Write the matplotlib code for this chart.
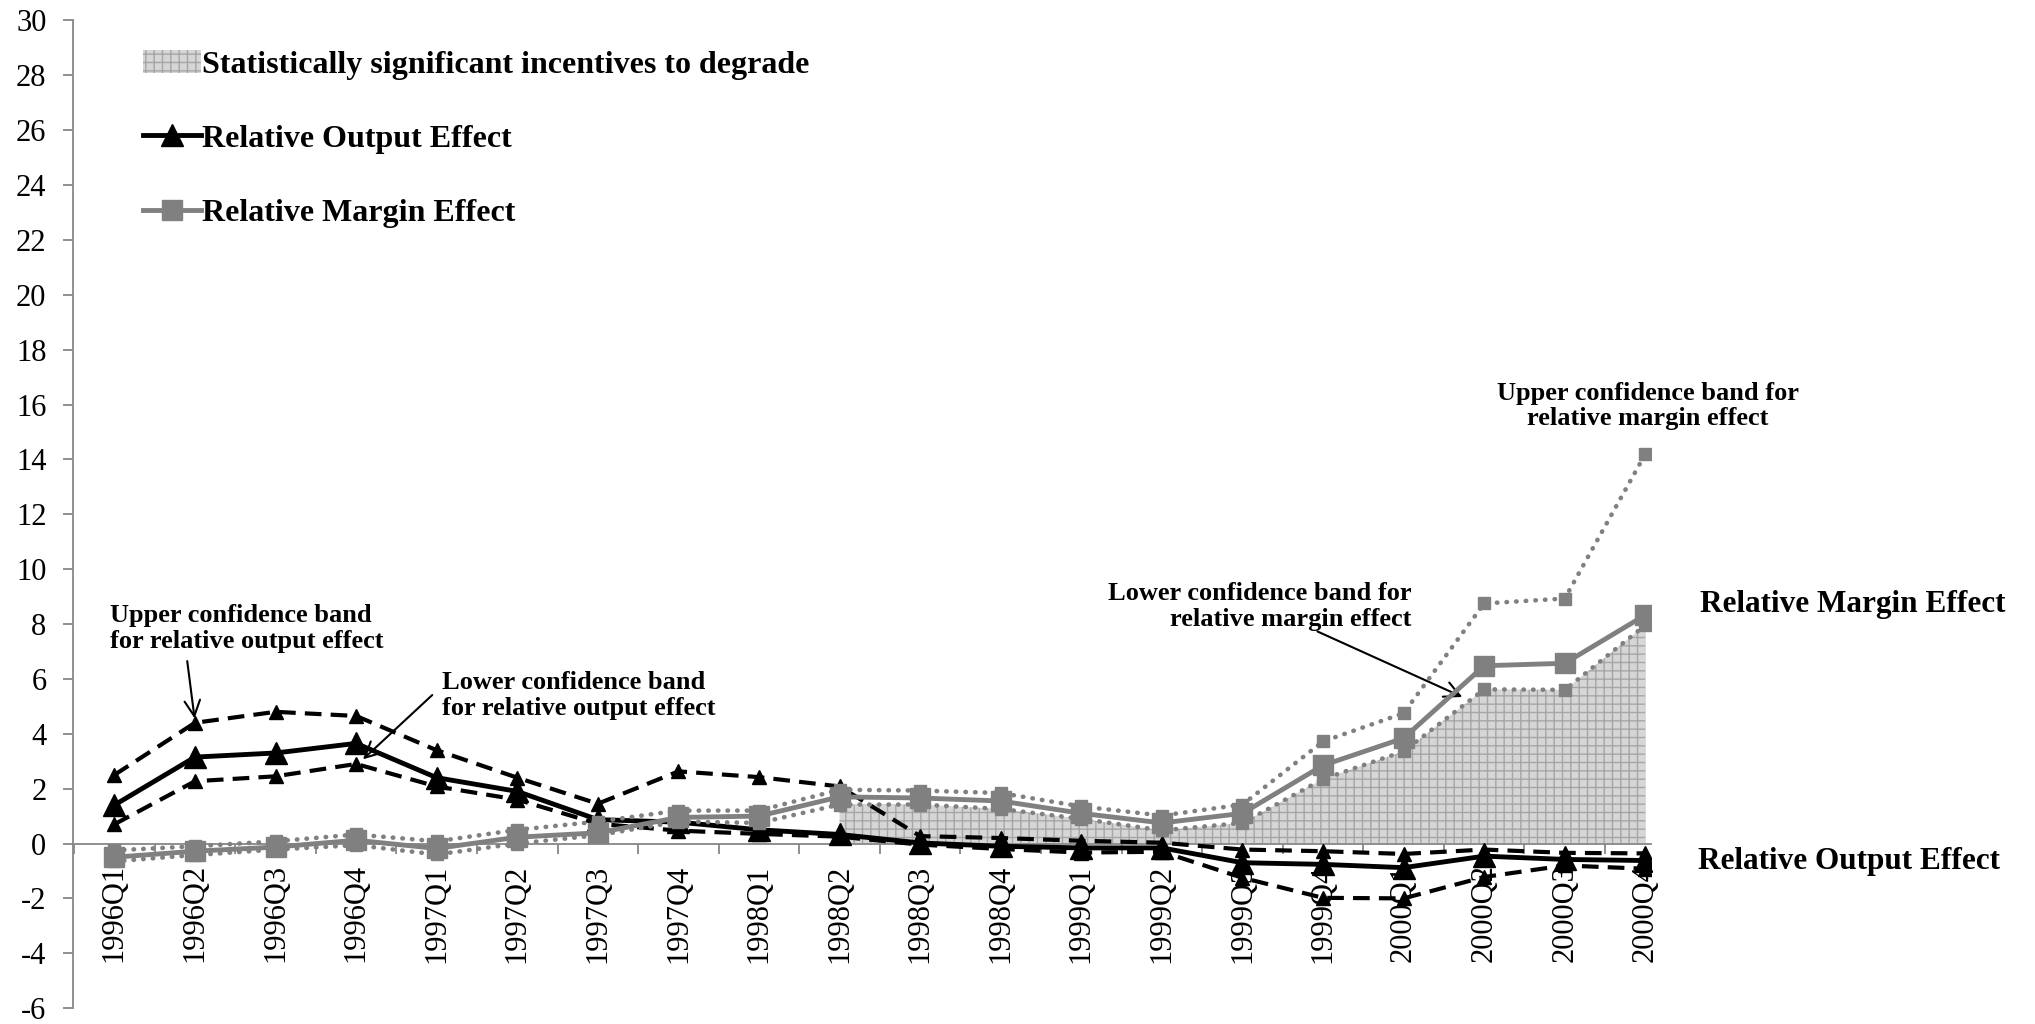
import matplotlib
matplotlib.use("Agg")
import matplotlib.pyplot as plt
from matplotlib.patches import Patch
from matplotlib.lines import Line2D
import numpy as np

# ─── Data ────────────────────────────────────────────────────────────────────
quarters = ["1996Q1", "1996Q2", "1996Q3", "1996Q4",
            "1997Q1", "1997Q2", "1997Q3", "1997Q4",
            "1998Q1", "1998Q2", "1998Q3", "1998Q4",
            "1999Q1", "1999Q2", "1999Q3", "1999Q4",
            "2000Q1", "2000Q2", "2000Q3", "2000Q4"]

output_effect = [1.4, 3.15, 3.3, 3.65, 2.4, 1.9, 0.87, 0.78, 0.5, 0.33,
                 0.02, -0.1, -0.16, -0.16, -0.7, -0.76, -0.88, -0.46, -0.58, -0.62]
output_upper = [2.5, 4.4, 4.8, 4.65, 3.4, 2.4, 1.45, 2.63, 2.42, 2.08,
                0.27, 0.2, 0.1, 0.03, -0.22, -0.28, -0.38, -0.22, -0.34, -0.36]
output_lower = [0.7, 2.27, 2.45, 2.9, 2.08, 1.6, 0.72, 0.47, 0.35, 0.25,
                -0.04, -0.2, -0.33, -0.3, -1.25, -1.98, -2.0, -1.22, -0.8, -0.92]

margin_effect = [-0.5, -0.28, -0.13, 0.12, -0.18, 0.23, 0.39, 0.95, 1.0, 1.7,
                 1.66, 1.55, 1.1, 0.75, 1.1, 2.85, 3.84, 6.48, 6.57, 8.33]
margin_upper = [-0.25, -0.1, 0.08, 0.33, 0.08, 0.5, 0.8, 1.2, 1.2, 1.96,
                1.93, 1.84, 1.35, 1.02, 1.42, 3.72, 4.75, 8.75, 8.93, 14.2]
margin_lower = [-0.65, -0.42, -0.22, -0.06, -0.4, 0.0, 0.3, 0.8, 0.75, 1.42,
                1.42, 1.26, 0.9, 0.48, 0.75, 2.35, 3.36, 5.62, 5.6, 7.96]

# quarters where the incentive to degrade is significant (shaded)
significant_from = "1998Q2"

y_ticks = list(range(-6, 31, 2))

# ─── Style ───────────────────────────────────────────────────────────────────
plt.rcParams.update({
    "font.family": "Liberation Serif",
    "axes.unicode_minus": False,
    "hatch.linewidth": 1.0,
    "hatch.color": "#a6a6a6",
})

GRAY = "#808080"
AXIS_GRAY = "#878787"
DASH = (0, (4, 2.2))
DOT = (0, (0.1, 2.0))

fig = plt.figure(figsize=(20.35, 10.24), dpi=100)
ax = fig.add_axes([0.0358, 0.0155, 0.7755, 0.9645])

x = np.arange(len(quarters))
sig_mask = [q >= significant_from for q in quarters]

# shaded area
ax.fill_between(x, 0, margin_lower, where=sig_mask, facecolor="#d6d6d6",
                edgecolor="#a6a6a6", hatch="++", linewidth=0, zorder=1)

# relative output effect (black)
ax.plot(x, output_upper, color="black", lw=3, ls=DASH, marker="^", ms=10, zorder=3)
ax.plot(x, output_lower, color="black", lw=3, ls=DASH, marker="^", ms=10, zorder=3)
ax.plot(x, output_effect, color="black", lw=3.5, marker="^", ms=16, zorder=4)

# relative margin effect (gray)
ax.plot(x, margin_upper, color=GRAY, lw=3.3, ls=DOT, dash_capstyle="round",
        marker="s", ms=8, zorder=5)
ax.plot(x, margin_lower, color=GRAY, lw=3.3, ls=DOT, dash_capstyle="round",
        marker="s", ms=8, zorder=5)
ax.plot(x, margin_effect, color=GRAY, lw=3.5, marker="s", ms=15, zorder=6)

# ─── Axes ────────────────────────────────────────────────────────────────────
ax.set_xlim(-0.515, 19.07)
ax.set_ylim(-6, 30)
ax.set_yticks(y_ticks)
ax.set_yticklabels([str(v) for v in y_ticks])
ax.set_xticks(x)
ax.set_xticklabels(quarters)
ax.set_xticks(np.arange(-0.5, len(quarters) - 1, 1), minor=True)

for s in ("top", "right"):
    ax.spines[s].set_visible(False)
ax.spines["bottom"].set_position(("data", 0))
for s in ("left", "bottom"):
    ax.spines[s].set_color(AXIS_GRAY)
    ax.spines[s].set_linewidth(1.3)
    ax.spines[s].set_zorder(2)

ax.tick_params(axis="y", length=7, width=1.3, color=AXIS_GRAY, pad=12, labelsize=22)
ax.tick_params(axis="x", which="major", length=0, pad=15, labelsize=22,
               labelrotation=90)
ax.tick_params(axis="x", which="minor", length=7, width=1.3, color=AXIS_GRAY,
               direction="out")

# ─── Legend ──────────────────────────────────────────────────────────────────
handles = [
    Patch(facecolor="#d6d6d6", edgecolor="#a6a6a6", hatch="++", linewidth=0),
    Line2D([], [], color="black", lw=3.5, marker="^", ms=16),
    Line2D([], [], color=GRAY, lw=3.5, marker="s", ms=15),
]
labels = ["Statistically significant incentives to degrade",
          "Relative Output Effect", "Relative Margin Effect"]
fig.legend(handles, labels, loc="upper left", bbox_to_anchor=(0.0703, 0.951),
           frameon=False, borderpad=0, borderaxespad=0, handlelength=1.8,
           handletextpad=0.05, labelspacing=1.4,
           prop={"family": "Liberation Serif", "weight": "bold", "size": 23})

# ─── Annotations ─────────────────────────────────────────────────────────────
ann = dict(fontsize=19, fontweight="bold", linespacing=1.15)
arrow = dict(arrowstyle="->", lw=1.5, color="black", mutation_scale=28)

ax.annotate("Upper confidence band\nfor relative output effect",
            xy=(1.0, 4.46), xytext=(-0.06, 7.83), ha="left", va="center", **ann)
ax.annotate("", xy=(1.0, 4.46), xytext=(0.9, 6.75), arrowprops=arrow)

ax.annotate("Lower confidence band\nfor relative output effect",
            xy=(3.06, 3.0), xytext=(4.06, 5.4), ha="left", va="center", **ann)
ax.annotate("", xy=(3.06, 3.0), xytext=(3.97, 5.48), arrowprops=arrow)

ax.annotate("Lower confidence band for\nrelative margin effect",
            xy=(16.76, 5.3), xytext=(16.1, 8.65), ha="right", va="center",
            multialignment="right", **ann)
ax.annotate("", xy=(16.76, 5.3), xytext=(14.9, 7.77), arrowprops=arrow)

ax.text(19.03, 15.95, "Upper confidence band for\nrelative margin effect",
        ha="center", va="center", multialignment="center", **ann)

ax.text(19.68, 8.7, "Relative Margin Effect", ha="left", va="center",
        fontsize=22.5, fontweight="bold", clip_on=False)
ax.text(19.65, -0.67, "Relative Output Effect", ha="left", va="center",
        fontsize=22.5, fontweight="bold", clip_on=False)

fig.savefig("out.png", dpi=100)
